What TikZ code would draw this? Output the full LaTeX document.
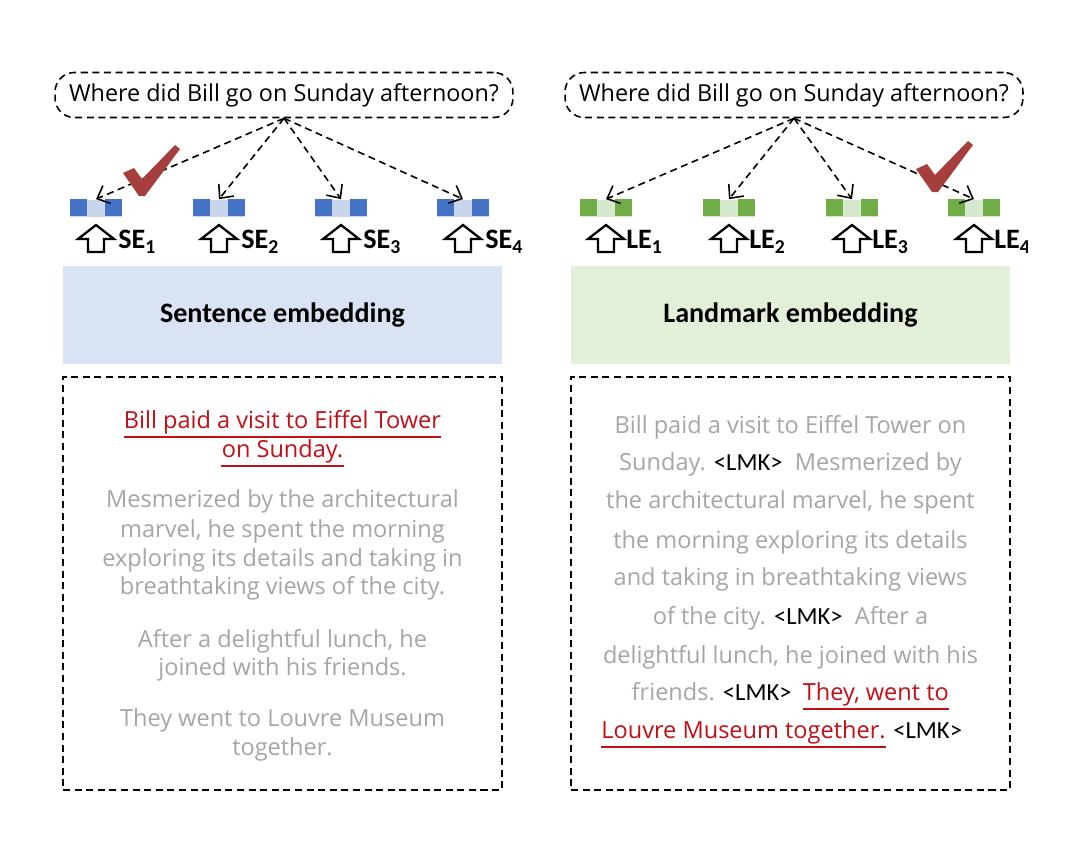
\documentclass[tikz,border=0pt]{standalone}
\usepackage{fontspec}
\setmainfont{Open Sans}
\newfontfamily\lblfont{Carlito}
\usetikzlibrary{arrows.meta,positioning}
\definecolor{seblue}{RGB}{68,114,196}
\definecolor{selight}{RGB}{200,213,237}
\definecolor{seback}{RGB}{218,227,243}
\definecolor{legreen}{RGB}{112,173,71}
\definecolor{lelight}{RGB}{214,232,203}
\definecolor{leback}{RGB}{226,240,217}
\definecolor{txtgray}{RGB}{166,166,166}
\definecolor{hlred}{RGB}{192,16,24}
\definecolor{tickred}{RGB}{166,62,62}
\newcommand{\lmk}{{\lblfont\fontsize{14}{16}\selectfont\color{black}<LMK>}}
\begin{document}
\begin{tikzpicture}[x=0.02cm,y=-0.02cm,
  dashline/.style={dash pattern=on 4pt off 2.6pt,line width=0.9pt},
  qbox/.style={draw,dashline,rounded corners=11pt,minimum width=9.16cm,minimum height=0.9cm,
    font=\fontsize{13.3}{15}\selectfont},
  qarrow/.style={dashline,-{Straight Barb[length=6pt,width=11pt]}},
  ebar/.style={minimum width=1.04cm,minimum height=0.34cm,inner sep=0pt},
  lbl/.style={anchor=west,inner sep=0pt,font=\lblfont\bfseries\fontsize{16}{18}\selectfont},
  embbox/.style={minimum width=8.78cm,minimum height=1.98cm,inner sep=0pt,
    font=\lblfont\bfseries\fontsize{16}{18}\selectfont},
  ctxbox/.style={draw,dashline,minimum width=8.78cm,minimum height=8.26cm},
  txt/.style={text=txtgray,inner sep=0pt,text height=10pt,text depth=3.5pt,
    font=\fontsize{13.4}{15}\selectfont},
  hltxt/.style={txt,text=hlred},
  hlline/.style={hlred,line width=1.6pt}]
\fill[white] (0,0) rectangle (1080,842);
\useasboundingbox (0,0) rectangle (1080,842);

% sentence embedding side
\node[qbox] (ql) at (284,95) {Where did Bill go on Sunday afternoon?};
\foreach \n/\x in {1/96,2/219,3/341,4/463}{
  \node[ebar,fill=selight] (se\n) at (\x,208) {};
  \fill[seblue] (se\n.north west) rectangle +(17,17);
  \fill[seblue] (se\n.north east) rectangle +(-17,17);
  \draw[qarrow] (ql.south) -- (se\n.north);
  \draw[line width=1.3pt] (\x,225) -- (\x+18,239) -- (\x+8,239) -- (\x+8,252)
    -- (\x-8,252) -- (\x-8,239) -- (\x-18,239) -- cycle;
  \node[lbl] (sel\n) at (\x+22,242) {SE\textsubscript{\n}};
}
\fill[tickred] (123,173) -- (134,168) -- (142,179) -- (175,145) -- (180,149)
  -- (145,196) -- (139,196) -- cycle;
\node[embbox,fill=seback] (sebox) at (282.5,315) {Sentence embedding};
\node[ctxbox] (sectx) at (282.5,583.5) {};
\node[hltxt] (sh1) at (282.5,423) {Bill paid a visit to Eiffel Tower};
\node[hltxt] (sh2) at (282.5,452) {on Sunday.};
\foreach \n in {sh1,sh2}
  \draw[hlline] ([yshift=-1pt]\n.south west) -- ([yshift=-1pt]\n.south east);
\foreach \n/\y/\txt in {3/502/{Mesmerized by the architectural},
    4/532/{marvel, he spent the morning},
    5/561/{exploring its details and taking in},
    6/589/{breathtaking views of the city.},
    7/642/{After a delightful lunch, he},
    8/670/{joined with his friends.},
    9/721/{They went to Louvre Museum},
    10/750/{together.}}{
  \node[txt] (sl\n) at (282.5,\y) {\txt};
}

% landmark embedding side
\node[qbox] (qr) at (794,95) {Where did Bill go on Sunday afternoon?};
\begin{scope}
\clip (0,0) rectangle (1027,842);
\foreach \n/\x in {1/606,2/729,3/852,4/974}{
  \node[ebar,fill=lelight] (le\n) at (\x,208) {};
  \fill[legreen] (le\n.north west) rectangle +(17,17);
  \fill[legreen] (le\n.north east) rectangle +(-17,17);
  \draw[qarrow] (qr.south) -- (le\n.north);
  \draw[line width=1.3pt] (\x,225) -- (\x+18,239) -- (\x+8,239) -- (\x+8,252)
    -- (\x-8,252) -- (\x-8,239) -- (\x-18,239) -- cycle;
  \node[lbl] (lel\n) at (\x+20,242) {LE\textsubscript{\n}};
}
\end{scope}
\fill[tickred,shift={(793,-4)}] (123,173) -- (134,168) -- (142,179) -- (175,145)
  -- (180,149) -- (145,196) -- (139,196) -- cycle;
\node[embbox,fill=leback] (lebox) at (790.5,315) {Landmark embedding};
\node[ctxbox] (lectx) at (790.5,583.5) {};
\foreach \n/\y/\txt in {1/428/{Bill paid a visit to Eiffel Tower on},
    2/465/{Sunday. \lmk\ \ Mesmerized by},
    3/503/{the architectural marvel, he spent},
    4/543/{the morning exploring its details},
    5/580/{and taking in breathtaking views},
    6/619/{of the city. \lmk\ \ After a},
    7/658/{delightful lunch, he joined with his}}{
  \node[txt] (ll\n) at (790.5,\y) {\txt};
}
\node[txt,anchor=east] (ll8) at (792,695) {friends. \lmk};
\node[hltxt,right=6pt of ll8] (lh8) {They, went to};
\node[hltxt,anchor=east] (lh9) at (886,733) {Louvre Museum together.};
\node[txt,right=4pt of lh9] (ll9) {\lmk};
\foreach \n in {lh8,lh9}
  \draw[hlline] ([yshift=-1pt]\n.south west) -- ([yshift=-1pt]\n.south east);
\end{tikzpicture}
\end{document}
